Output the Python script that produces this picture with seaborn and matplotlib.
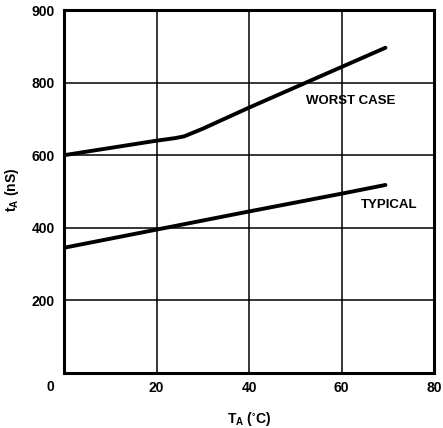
import matplotlib
matplotlib.use('Agg')
import matplotlib.pyplot as plt
import seaborn as sns
import pandas as pd

# Data (temperature in degC, access time in nS)
worst_temp = [0, 10, 20, 24, 26, 30, 40, 50, 60, 69.5]
worst_time = [600, 620, 640, 647, 652, 673, 731, 787, 843, 896]
typical_temp = [0, 20, 40, 60, 69.5]
typical_time = [345, 395, 445, 494, 518]

x_ticks = [20, 40, 60, 80]
x_tick_labels = ['20', '40', '60', '80']
y_ticks = [200, 400, 600, 800, 1000]
y_tick_labels = ['200', '400', '600', '800', '900']

sns.set_theme(style='white')
plt.rcParams['font.family'] = ['Liberation Sans', 'DejaVu Sans']
plt.rcParams['mathtext.default'] = 'regular'
plt.rcParams['text.color'] = 'black'
plt.rcParams['axes.labelcolor'] = 'black'
plt.rcParams['xtick.color'] = 'black'
plt.rcParams['ytick.color'] = 'black'

df = pd.concat([
    pd.DataFrame({'temp': worst_temp, 'time': worst_time, 'curve': 'WORST CASE'}),
    pd.DataFrame({'temp': typical_temp, 'time': typical_time, 'curve': 'TYPICAL'}),
])

fig = plt.figure(figsize=(4.43, 4.28), dpi=100)
ax = fig.add_axes([64 / 443, 1 - 373 / 428, 370 / 443, 363 / 428])

sns.lineplot(data=df, x='temp', y='time', units='curve', estimator=None,
             color='black', linewidth=2.8, ax=ax, sort=False)

ax.set_xlim(0, 80)
ax.set_ylim(0, 1000)
ax.set_xticks(x_ticks)
ax.set_xticklabels(x_tick_labels)
ax.set_yticks(y_ticks)
ax.set_yticklabels(y_tick_labels)
ax.grid(True, color='black', linewidth=1.1)
ax.set_axisbelow(True)
for s in ax.spines.values():
    s.set_color('black')
    s.set_linewidth(2.2)
ax.tick_params(length=0, labelsize=10)
ax.tick_params(axis='x', pad=6)
ax.tick_params(axis='y', pad=6.5)
for lab in ax.get_xticklabels() + ax.get_yticklabels():
    lab.set_fontweight('bold')
ax.text(-3, -38, '0', ha='center', va='center', fontsize=10, fontweight='bold')

ax.set_xlabel('$T_A$ ($^{\\circ}$C)', fontsize=10, fontweight='bold')
ax.xaxis.set_label_coords(0.5, -(410 - 373) / 363)
ax.set_ylabel('$t_A$ (nS)', fontsize=10, fontweight='bold')
ax.yaxis.set_label_coords(-43 / 370, 1 - (190 - 10) / 363)

ax.text(62, 748, 'WORST CASE', ha='center', va='center', fontsize=9.5, fontweight='bold')
ax.text(70.3, 463, 'TYPICAL', ha='center', va='center', fontsize=9.5, fontweight='bold')

fig.savefig('out.png', dpi=100)
